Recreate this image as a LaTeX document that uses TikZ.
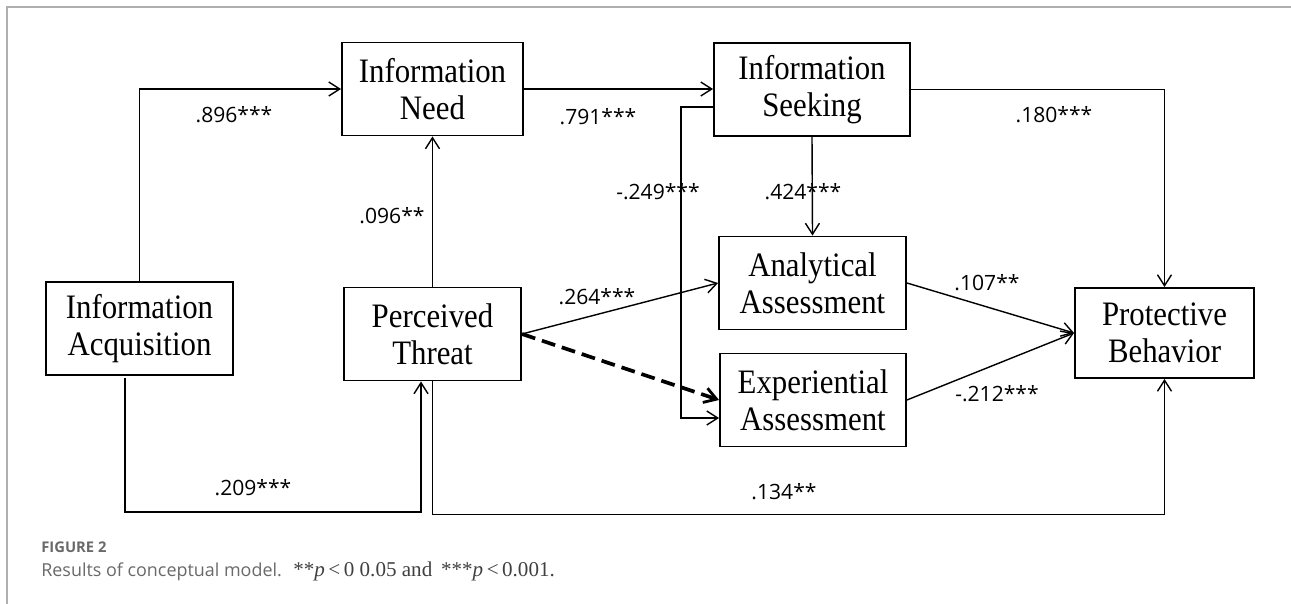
\documentclass[tikz,border=0pt]{standalone}
\usepackage{fontspec}
\setmainfont{Liberation Serif}
\newfontfamily\boxfont{Liberation Serif}[FakeStretch=0.9]
\newfontfamily\coeffont{Open Sans}
\newfontfamily\capfont{Open Sans}
\usetikzlibrary{arrows.meta}
\definecolor{capgray}{RGB}{105,105,105}
\definecolor{framegray}{RGB}{175,175,175}

\begin{document}
\begin{tikzpicture}[x=0.02cm, y=-0.02cm,
    box/.style={rectangle, draw=black, line width=1.1pt, minimum width=3.7cm, minimum height=1.86cm, inner sep=0pt, align=center, font=\boxfont\fontsize{19.5}{21}\selectfont},
    coef/.style={inner sep=0pt, font=\coeffont\fontsize{12}{14}\selectfont},
    arrow/.style={-{Straight Barb[length=2.2mm,width=2.8mm]}, line width=0.8pt},
    dasharrow/.style={-{Straight Barb[length=2.4mm,width=3mm,line width=1.6pt]}, line width=2.1pt, dash pattern=on 0.28cm off 0.14cm}
]
\useasboundingbox (0,0) rectangle (1291,604);

% Frame
\draw[framegray, line width=0.6pt] (7,604) -- (7,7) -- (1291,7);

% Boxes
\node[box, minimum width=3.74cm] (acq) at (139.5,328.5) {Information\\Acquisition};
\node[box, minimum width=3.62cm] (need) at (432.5,89) {Information\\Need};
\node[box, minimum width=3.54cm] (threat) at (432.5,334) {Perceived\\Threat};
\node[box, minimum width=3.92cm] (seek) at (812,89.5) {Information\\Seeking};
\node[box, minimum width=3.74cm] (anal) at (812.5,283) {Analytical\\Assessment};
\node[box, minimum width=3.72cm] (exper) at (813,400) {Experiential\\Assessment};
\node[box, minimum width=3.58cm, minimum height=1.8cm] (prot) at (1164.5,333) {Protective\\Behavior};

% Arrows
\draw[arrow] (acq.north) |- (need.west);
\draw[arrow] (need.east) -- (need.east -| seek.west);
\draw[arrow] (seek.east) -| (prot.north);
\draw[arrow] (seek.south) -- (anal.north);
\coordinate (bend) at (681,107);
\draw[arrow] (seek.west |- bend) -- (bend) |- (exper.west |- 0,418);
\draw[arrow] (threat.north) -- (need.south);
\draw[arrow] (threat.east) -- (anal.west);
\draw[dasharrow] (threat.east) -- (exper.west);
\draw[arrow] (anal.east) -- (prot.west);
\draw[arrow] (exper.east) -- (prot.west);
\draw[arrow] (125,378) -- (125,512) -| (421,0 |- threat.south);
\draw[arrow] (threat.south) -- ++(0,133) -| (prot.south);

% Coefficients
\node[coef] (c1) at (234,115) {.896***};
\node[coef] (c2) at (598,117) {.791***};
\node[coef] (c3) at (1054,115) {.180***};
\node[coef] (c4) at (803,192) {.424***};
\node[coef] (c5) at (658,192) {-.249***};
\node[coef] (c6) at (392,216) {.096**};
\node[coef] (c7) at (597,297) {.264***};
\node[coef] (c8) at (987,283) {.107**};
\node[coef] (c9) at (997,394) {-.212***};
\node[coef] (c10) at (253,488) {.209***};
\node[coef] (c11) at (784,492) {.134**};

% Caption
\node[anchor=base west, inner sep=0pt, text=capgray, font=\capfont\fontsize{8.4}{10}\selectfont\bfseries] (fig) at (41,552) {FIGURE 2};
\node[anchor=base west, inner sep=0pt, text=capgray, font=\capfont\fontsize{10.2}{12}\selectfont] (cap) at (41,576) {Results of conceptual model.};
\node[anchor=base west, inner sep=0pt, text=black!75, font=\fontsize{12}{14}\selectfont] (capp) at (293,576) {**\textit{p}\,<\,0 0.05 and\, ***\textit{p}\,<\,0.001.};

\end{tikzpicture}
\end{document}
